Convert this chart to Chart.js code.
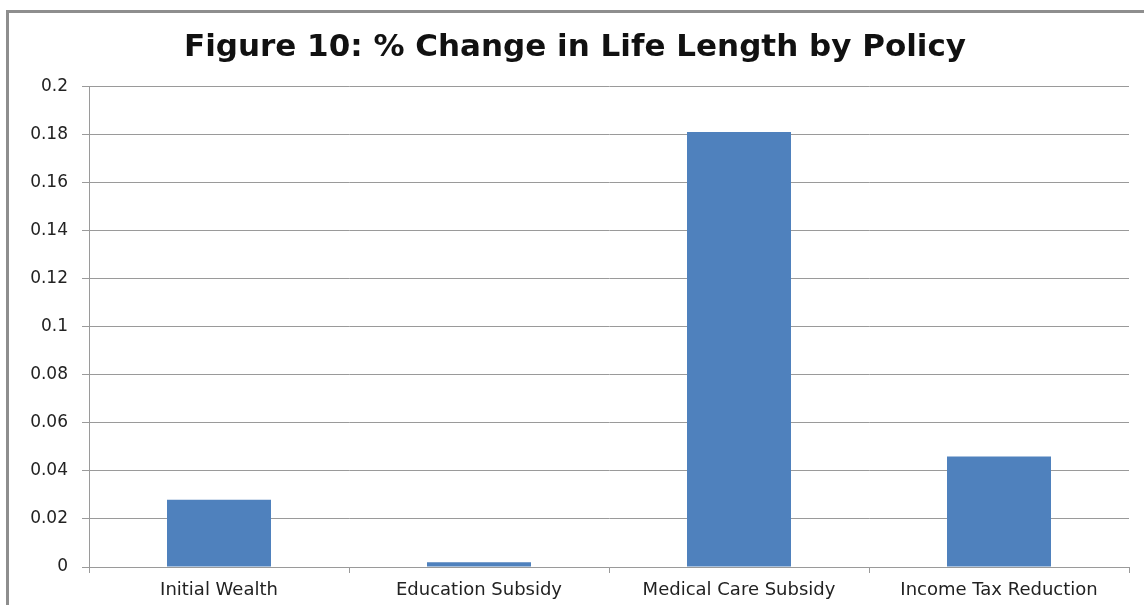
<!DOCTYPE html>
<html>
<head>
<meta charset="utf-8">
<script src="https://cdn.jsdelivr.net/npm/chart.js@4"></script>
<style>
  html, body { margin: 0; padding: 0; background: #fff; overflow: hidden; }
  #frame { position: absolute; left: 6px; top: 10px; width: 1300px; height: 800px; border: 3px solid #8e8e8e; box-sizing: border-box; }
  #wrap { position: absolute; left: 0; top: 0; width: 1144px; height: 605px; }
</style>
</head>
<body>
<div id="frame"></div>
<div id="wrap"><canvas id="c" width="1144" height="605"></canvas></div>
<script>
const categories = ["Initial Wealth", "Education Subsidy", "Medical Care Subsidy", "Income Tax Reduction"];
const values = [0.028, 0.002, 0.181, 0.046];
const yTicks = [0, 0.02, 0.04, 0.06, 0.08, 0.1, 0.12, 0.14, 0.16, 0.18, 0.2];
const titleText = "Figure 10: % Change in Life Length by Policy";

const FONT = "'DejaVu Sans', sans-serif";

new Chart(document.getElementById('c'), {
  type: 'bar',
  data: {
    labels: categories,
    datasets: [{
      data: values,
      backgroundColor: '#4F81BD',
      borderWidth: 0,
      categoryPercentage: 1.0,
      barPercentage: 0.4
    }]
  },
  options: {
    responsive: false,
    animation: false,
    devicePixelRatio: 1,
    layout: { padding: { left: 21, right: 15, top: 0, bottom: 0 } },
    plugins: {
      legend: { display: false },
      tooltip: { enabled: false },
      title: {
        display: true,
        text: titleText,
        color: '#111',
        font: { family: FONT, size: 31, weight: 'bold', lineHeight: 1.2 },
        padding: { top: 29, bottom: 20 }
      }
    },
    scales: {
      x: {
        grid: { display: true, drawOnChartArea: false, drawTicks: true, tickLength: 6, color: '#9a9a9a', offset: true },
        border: { display: true, color: '#9a9a9a' },
        ticks: { color: '#222', font: { family: FONT, size: 18 }, padding: 7 },
        afterFit: (s) => { s.height = 38; }
      },
      y: {
        min: 0, max: 0.2,
        afterBuildTicks: (s) => { s.ticks = yTicks.map(v => ({ value: v })); },
        grid: { color: '#9a9a9a', tickLength: 7, drawTicks: true },
        border: { display: true, color: '#9a9a9a' },
        ticks: { color: '#222', font: { family: FONT, size: 17 }, padding: 14,
                 callback: (v) => String(Math.round(v * 100) / 100) },
        afterFit: (s) => { s.width = 68; }
      }
    }
  }
});
</script>
</body>
</html>
